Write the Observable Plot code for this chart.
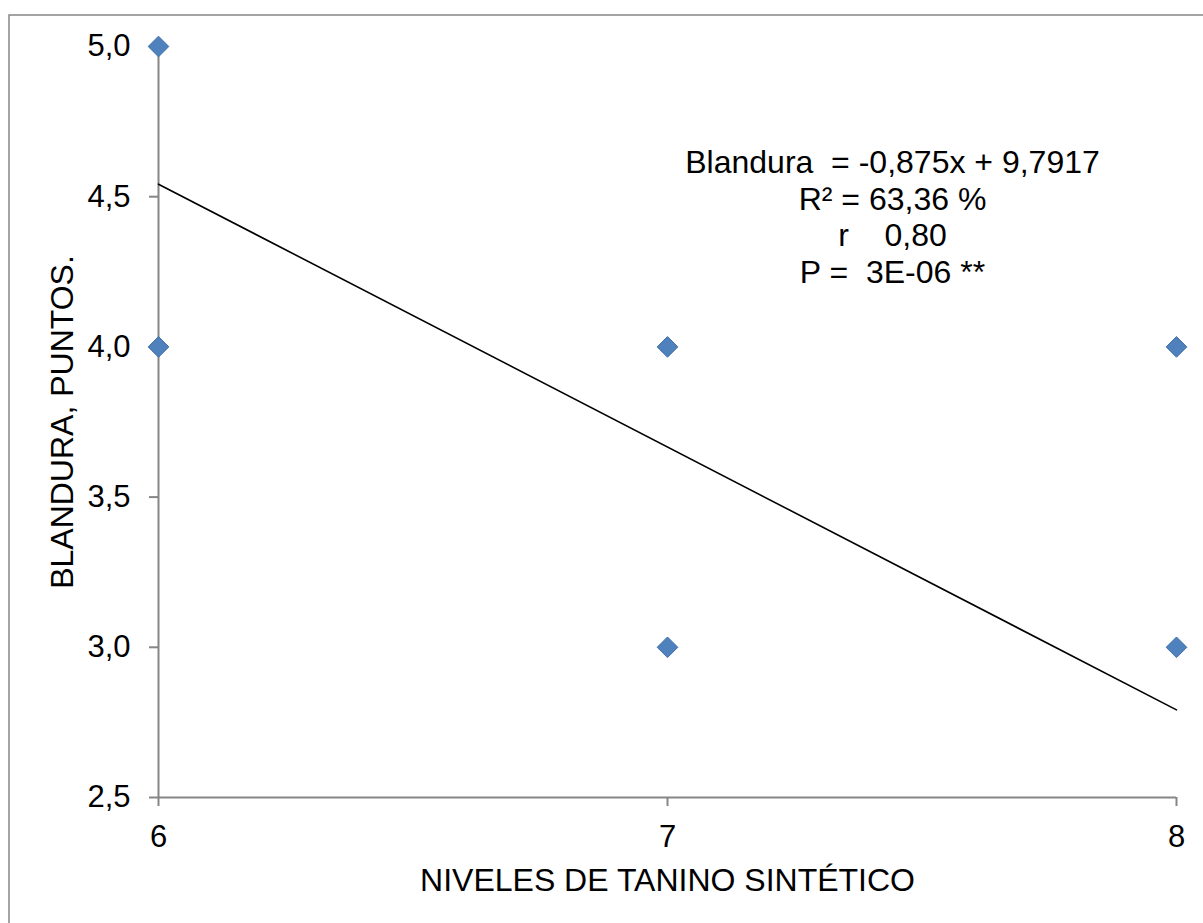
<!DOCTYPE html>
<html>
<head>
<meta charset="utf-8">
<script src="https://cdn.jsdelivr.net/npm/d3@7"></script>
<script src="https://cdn.jsdelivr.net/npm/@observablehq/plot@0.6"></script>
<style>
  html, body { margin: 0; padding: 0; background: #fff; }
  #chart svg { display: block; }
</style>
</head>
<body>
<div id="chart"></div>
<script>
// ---- Data ----
const nivelesTanino = [6, 6, 7, 7, 8, 8];
const blandura      = [5, 4, 4, 3, 4, 3];
const xTicks = [6, 7, 8];
const yTicks = [2.5, 3.0, 3.5, 4.0, 4.5, 5.0];
const slope = -0.875;
const intercept = 9.7917;
const annotationLines = [
  "Blandura  = -0,875x + 9,7917",
  "R\u00B2 = 63,36 %",
  "r    0,80",
  "P =  3E-06 **"
];
const xTitle = "NIVELES DE TANINO SINTÉTICO";
const yTitle = "BLANDURA, PUNTOS.";

const points = nivelesTanino.map((x, i) => ({x, y: blandura[i]}));
const fit = [xTicks[0], xTicks[xTicks.length - 1]].map(x => ({x, y: slope * x + intercept}));

const fmt = v => d3.format(".1f")(v).replace(".", ",");
const axisColor = "#868686";
const FONT = "Liberation Sans, Arial, sans-serif";

const chart = Plot.plot({
  width: 1203,
  height: 923,
  marginLeft: 158,
  marginRight: 27,
  marginTop: 46,
  marginBottom: 126,
  style: {fontFamily: FONT, fontSize: "31px", color: "#000", background: "#fff"},
  x: {domain: [6, 8]},
  y: {domain: [2.5, 5.0]},
  marks: [
    Plot.ruleX([6], {stroke: axisColor, strokeWidth: 2}),
    Plot.ruleY([2.5], {stroke: axisColor, strokeWidth: 2}),
    Plot.axisX({ticks: xTicks, tickSize: 9, tickPadding: 18, stroke: axisColor, strokeWidth: 2,
      fill: "#000", tickFormat: d => String(d), label: null, fontSize: 31}),
    Plot.axisY({ticks: yTicks, tickSize: 9, tickPadding: 19, stroke: axisColor, strokeWidth: 2,
      fill: "#000", tickFormat: fmt, label: null, fontSize: 31}),
    Plot.line(fit, {x: "x", y: "y", stroke: "#000", strokeWidth: 1.6}),
    Plot.dot(points, {x: "x", y: "y", symbol: "diamond2", r: 9.3, fill: "#4F81BD", stroke: "#3F6FA8", strokeWidth: 1}),
    Plot.text([annotationLines.join("\n")], {frameAnchor: "top-right", dx: -284, dy: 101,
      textAnchor: "middle", lineAnchor: "top", lineHeight: 1.14, fontSize: 32, fill: "#000"}),
    Plot.text([xTitle], {frameAnchor: "bottom", dy: 93, fontSize: 32, fill: "#000"}),
    Plot.text([yTitle], {frameAnchor: "left", dx: -96, dy: 0, rotate: -90, textAnchor: "middle", fontSize: 32, fill: "#000"})
  ]
});

d3.select(chart).insert("rect", ":first-child")
  .attr("x", 9).attr("y", 15).attr("width", 1210).attr("height", 930)
  .attr("fill", "none").attr("stroke", axisColor).attr("stroke-width", 1.5);

document.getElementById("chart").appendChild(chart);
</script>
</body>
</html>
